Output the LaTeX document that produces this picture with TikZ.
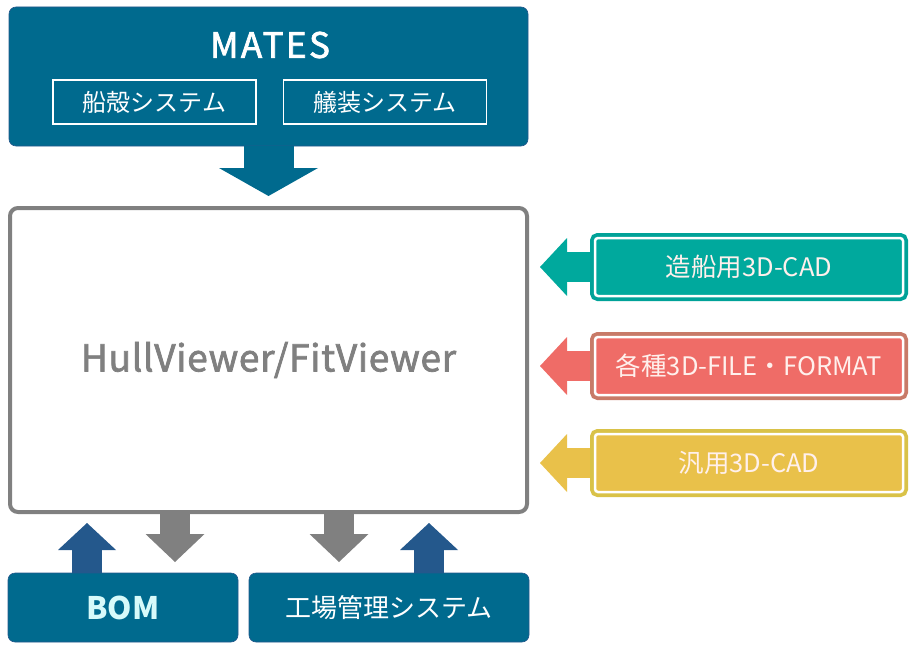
\documentclass[tikz,border=0pt]{standalone}
\usepackage{fontspec}
\setmainfont{Noto Sans CJK JP}
\newfontfamily\medfont{Noto Sans CJK JP}[FakeBold=2]
\usetikzlibrary{arrows.meta}
\definecolor{matesblue}{RGB}{0,106,142}
\definecolor{upblue}{RGB}{36,88,140}
\definecolor{framegray}{RGB}{128,128,128}
\definecolor{cadteal}{RGB}{0,169,157}
\definecolor{tealedge}{RGB}{0,162,152}
\definecolor{filered}{RGB}{239,108,103}
\definecolor{rededge}{RGB}{200,122,104}
\definecolor{cadyellow}{RGB}{233,193,74}
\definecolor{yellowedge}{RGB}{217,194,72}
\definecolor{bomtext}{RGB}{215,250,250}
\definecolor{softwhite}{RGB}{255,240,236}

\begin{document}
\begin{tikzpicture}
  [x=1pt,y=-1pt,every node/.style={inner sep=0pt,outer sep=0pt},
   bluebox/.style={fill=matesblue,draw=upblue,line width=0.6pt,rounded corners=7pt,text=white},
   subbox/.style={draw=white,line width=1.5pt,minimum width=203pt,minimum height=44pt,
     text=white,font=\fontsize{24}{28}\selectfont},
   cadbox/.style 2 args={fill=#1,draw=white,line width=2.5pt,rounded corners=3pt,
     minimum width=308pt,minimum height=58pt,text=softwhite,font=\fontsize{25.5}{30}\selectfont,
     preaction={draw=#2,line width=10pt}},
   bigdown/.style={matesblue,line width=50pt,-{Triangle[length=28pt,width=99pt,line width=0pt]}},
   outarrow/.style={framegray,line width=30pt,-{Triangle[length=28pt,width=59pt,line width=0pt]}},
   inarrow/.style={#1,line width=30pt,-{Triangle[length=27pt,width=58pt,line width=0pt]}}]
  \useasboundingbox (0,0) rectangle (920,650);

  % MATES and its two systems
  \node[bluebox,minimum width=519pt,minimum height=139pt] (mates) at (268.5,76.5) {};
  \node[text=white,font=\medfont\addfontfeatures{LetterSpace=7}\fontsize{35}{40}\selectfont] (title) at (270,45) {MATES};
  \node[subbox] (hull) at (154.5,102) {船殻システム};
  \node[subbox] (outfit) at (385,102) {艤装システム};

  % viewer
  \node[draw=framegray,line width=4pt,fill=white,rounded corners=8pt,
        minimum width=517pt,minimum height=304pt,text=framegray,
        font=\medfont\addfontfeatures{LetterSpace=2}\fontsize{37}{44}\selectfont] (main) at (268.5,360) {HullViewer/FitViewer};

  % inputs on the right
  \node[cadbox={cadteal}{tealedge}] (cad1) at (749,267) {造船用3D-CAD};
  \node[cadbox={filered}{rededge}] (cad2) at (749,366) {各種3D-FILE・FORMAT};
  \node[cadbox={cadyellow}{yellowedge}] (cad3) at (749,463) {汎用3D-CAD};

  % outputs below
  \node[bluebox,minimum width=230pt,minimum height=69pt,text=bomtext,
        font=\bfseries\fontsize{31}{36}\selectfont] (bom) at (123,607.5) {BOM};
  \node[bluebox,minimum width=280pt,minimum height=69pt,
        font=\fontsize{26}{30}\selectfont] (factory) at (389,607.5) {工場管理システム};

  \coordinate (g1) at (175,0);
  \coordinate (g2) at (339,0);
  \coordinate (u1) at (87,0);
  \coordinate (u2) at (429,0);

  \path
    (mates.south) edge[bigdown,shorten >=12pt] (main.north)
    (cad1.west) edge[inarrow=cadteal,shorten <=5pt,shorten >=13pt] (cad1.west -| main.east)
    (cad2.west) edge[inarrow=filered,shorten <=5pt,shorten >=13pt] (cad2.west -| main.east)
    (cad3.west) edge[inarrow=cadyellow,shorten <=5pt,shorten >=13pt] (cad3.west -| main.east)
    (main.south -| g1) edge[outarrow,shorten >=11pt] (bom.north -| g1)
    (main.south -| g2) edge[outarrow,shorten >=11pt] (factory.north -| g2)
    (bom.north -| u1) edge[inarrow=upblue,shorten >=11pt] (main.south -| u1)
    (factory.north -| u2) edge[inarrow=upblue,shorten >=11pt] (main.south -| u2)
    ;

\end{tikzpicture}
\end{document}
